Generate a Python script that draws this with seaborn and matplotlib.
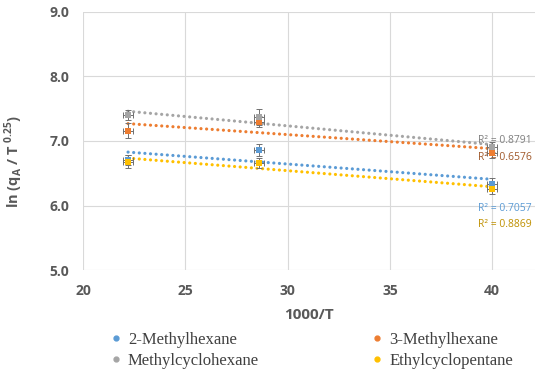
import numpy as np
import matplotlib
matplotlib.use("Agg")
import matplotlib.pyplot as plt
from matplotlib.lines import Line2D
import seaborn as sns

# data
inv_T = [22.2, 28.6, 40.0]
series = ["2-Methylhexane", "3-Methylhexane", "Methylcyclohexane", "Ethylcyclopentane"]
y_2mh = [6.71, 6.86, 6.34]
y_3mh = [7.16, 7.30, 6.82]
y_mch = [7.40, 7.37, 6.91]
y_ecp = [6.68, 6.66, 6.26]
yerr_2mh = [0.08, 0.10, 0.08]
yerr_3mh = [0.12, 0.08, 0.08]
yerr_mch = [0.08, 0.12, 0.08]
yerr_ecp = [0.10, 0.08, 0.08]
xerr = [0.25, 0.25, 0.25]
r2_labels = ["R² = 0.7057", "R² = 0.6576", "R² = 0.8791", "R² = 0.8869"]

colors = ["#5B9BD5", "#ED7D31", "#A5A5A5", "#FFC000"]
text_colors = ["#5B9BD5", "#A0582A", "#7F7F7F", "#BF9000"]

sns.set_theme(style="whitegrid")
plt.rcParams['font.family'] = ['Open Sans', 'DejaVu Sans']

fig, ax = plt.subplots(figsize=(5.5, 3.73), dpi=100)
fig.subplots_adjust(left=0.151, right=0.973, top=0.968, bottom=0.276)

ys = [y_2mh, y_3mh, y_mch, y_ecp]
yerrs = [yerr_2mh, yerr_3mh, yerr_mch, yerr_ecp]

# r2 label positions (data coords)
label_pos = [(39.3, 5.96), (39.3, 6.74), (39.3, 7.00), (39.3, 5.70)]

for name, y, ye, c, tc, lab, pos in zip(series, ys, yerrs, colors, text_colors, r2_labels, label_pos):
    sns.regplot(x=inv_T, y=y, ax=ax, ci=None, scatter=False, truncate=True,
                line_kws=dict(color=c, lw=2.3, linestyle=(0, (0.01, 1.75)),
                              dash_capstyle='round', zorder=2))
    ax.errorbar(inv_T, y, yerr=ye, xerr=xerr, fmt='none', ecolor='#707070',
                elinewidth=0.7, capsize=2, capthick=0.7, zorder=3)
    sns.scatterplot(x=inv_T, y=y, ax=ax, color=c, marker='s', s=20,
                    edgecolor=c, linewidth=0, zorder=4)
    ax.text(pos[0], pos[1], lab, color=tc, fontsize=7.5, ha='left', va='center')

ax.set_xlim(20, 42.1)
ax.set_ylim(5.0, 9.0)
ax.set_xticks([20, 25, 30, 35, 40])
ax.set_yticks([5, 6, 7, 8, 9])
ax.set_yticklabels(["5.0", "6.0", "7.0", "8.0", "9.0"])
for lbl in ax.get_xticklabels() + ax.get_yticklabels():
    lbl.set_fontweight('bold')
    lbl.set_color('#595959')
    lbl.set_fontsize(10)
ax.tick_params(axis='x', length=0, pad=10)
ax.tick_params(axis='y', length=0, pad=10)
ax.grid(True, color='#D9D9D9', linewidth=0.8)
for s in ax.spines.values():
    s.set_visible(False)

ax.set_xlabel("1000/T", fontsize=11, fontweight='bold', color='#595959', labelpad=7)
ax.set_ylabel(r"ln (q$_\mathregular{A}$ / T $^\mathregular{0.25}$)", fontsize=10.5,
              fontweight='bold', color='#595959')
ax.yaxis.set_label_coords(-0.128, 0.42)

# legend filled row by row like the original
order = [0, 2, 1, 3]
handles = [Line2D([], [], linestyle='none', marker='o', markersize=3.5,
                  color=colors[i]) for i in order]
leg = fig.legend(handles, [series[i] for i in order], loc='lower left',
                 bbox_to_anchor=(0.172, -0.029),
                 ncol=2, frameon=False, columnspacing=6.7, handlelength=0.8,
                 handletextpad=0.3, labelspacing=0.29,
                 prop={'family': 'Liberation Serif', 'size': 12})
for t in leg.get_texts():
    t.set_color('#404040')

fig.savefig("out.png", dpi=100)
